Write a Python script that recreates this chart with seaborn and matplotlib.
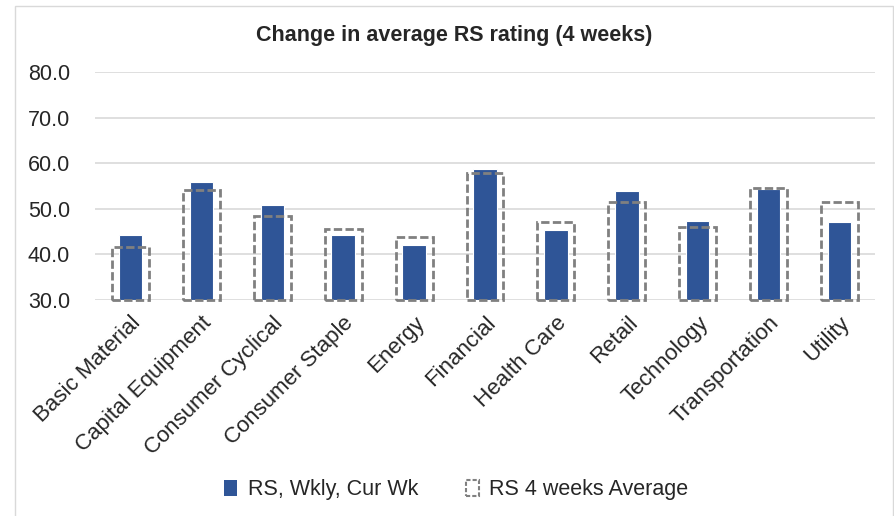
import pandas as pd
import seaborn as sns
import matplotlib.pyplot as plt
import matplotlib as mpl
from matplotlib.patches import Patch, Rectangle

categories = ['Basic Material', 'Capital Equipment', 'Consumer Cyclical', 'Consumer Staple',
              'Energy', 'Financial', 'Health Care', 'Retail', 'Technology',
              'Transportation', 'Utility']
rs_current = [44.3, 55.9, 50.8, 44.2, 42.1, 58.7, 45.3, 53.8, 47.3, 54.3, 47.0]
rs_4wk_avg = [41.7, 54.2, 48.5, 45.6, 43.9, 57.8, 47.1, 51.4, 46.1, 54.6, 51.4]
y_ticks = [30, 40, 50, 60, 70, 80]

df = pd.DataFrame({'Sector': categories, 'Current': rs_current, 'Avg': rs_4wk_avg})

sns.set_style('white')
mpl.rcParams['font.family'] = ['Liberation Sans', 'DejaVu Sans']

blue = '#2F5597'
gray = '#808080'
base = y_ticks[0]

fig = plt.figure(figsize=(8.95, 5.16), dpi=100)
ax = fig.add_axes([95 / 895, 1 - 300 / 516, 780 / 895, 228 / 516])

sns.barplot(data=df, x='Sector', y='Current', color=blue, width=0.33,
            saturation=1, edgecolor='white', linewidth=0.8, ax=ax, zorder=2)
n_blue = len(ax.patches)
sns.barplot(data=df, x='Sector', y='Avg', fill=False, color=gray, width=0.52,
            linewidth=2, linestyle=(0, (3.0, 1.2)), ax=ax, zorder=3)

# bars start at the axis minimum, like the Excel original
for p in ax.patches:
    h = p.get_height()
    p.set_y(base)
    p.set_height(h - base)
for p in ax.patches[n_blue:]:
    p.set_facecolor('none')
    p.set_edgecolor(gray)
    p.set_clip_on(False)

ax.set_ylim(base, y_ticks[-1])
ax.set_yticks(y_ticks)
ax.set_yticklabels([f'{v:.1f}' for v in y_ticks], fontsize=15.5)
ax.yaxis.grid(True, color='#D9D9D9', linewidth=1.2, zorder=0)
ax.set_axisbelow(True)
ax.set_xlim(-0.5, len(categories) - 0.5)
for s in ax.spines.values():
    s.set_visible(False)
ax.tick_params(axis='both', length=0)
ax.tick_params(axis='y', pad=18)
ax.tick_params(axis='x', pad=9)
plt.setp(ax.get_xticklabels(), rotation=45, ha='right', rotation_mode='anchor', fontsize=16)
ax.set_xlabel('')
ax.set_ylabel('')

fig.text(0.508, 1 - 35 / 516, 'Change in average RS rating (4 weeks)', ha='center', va='center',
         fontsize=15.5, fontweight='bold')

handles = [Patch(facecolor=blue, edgecolor='none'),
           Patch(facecolor='none', edgecolor=gray, linestyle=(0, (2, 1)), linewidth=1.5)]
fig.legend(handles, ['RS, Wkly, Cur Wk', 'RS 4 weeks Average'], loc='center',
           bbox_to_anchor=(0.51, 1 - 490 / 516), ncol=2, frameon=False, fontsize=15.5,
           handlelength=0.6, handleheight=0.8, handletextpad=0.5, columnspacing=2.2)

# outer chart border
fig.patches.append(Rectangle((15 / 895, -0.05), 878 / 895, 1.05 - 6 / 516, transform=fig.transFigure,
                             fill=False, edgecolor='#D9D9D9', linewidth=1))

fig.savefig('out.png', dpi=100)
